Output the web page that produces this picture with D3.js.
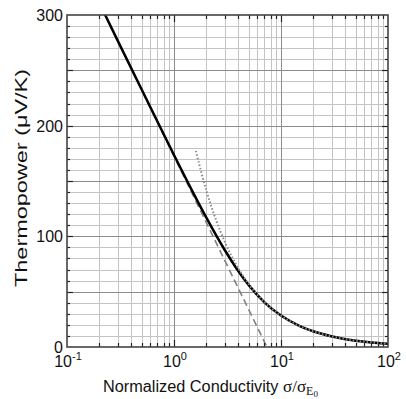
<!DOCTYPE html>
<html lang="en">
<head>
<meta charset="utf-8">
<title>Thermopower vs conductivity</title>
<script src="https://cdnjs.cloudflare.com/ajax/libs/d3/7.8.5/d3.min.js"></script>
<style type="text/css">
  body{
    margin:0;
    background:#fff;
  }
  .tick-text{
    font-family: "Liberation Sans", Arial, sans-serif;
    font-size: 16px;
    fill: #111;
  }
  .axis-title{
    font-family: "Liberation Sans", Arial, sans-serif;
    font-size: 16px;
    fill: #111;
  }
  .serif{
    font-family: "Liberation Serif", "DejaVu Serif", serif;
  }
</style>
</head>
<body>
<svg class="chart" width="406" height="399"></svg>
<script>
// conductivity (sigma/sigma_E0) and thermopower (uV/K)
var fullSigma = [0.2, 0.3, 0.5, 0.7, 1, 1.5, 2, 3, 4, 5, 7, 10, 15, 20, 30, 50, 70, 100]
var fullS     = [311.1, 276.2, 232.4, 203.7, 173.5, 140.0, 117.1, 87.2, 68.5, 55.9, 40.4, 28.4, 18.9, 14.2, 9.5, 5.7, 4.1, 2.9]

// non-degenerate limit (dashed)
var nondegSigma = [0.2, 7.39]
var nondegS     = [311.0, 0]

// degenerate limit (dotted)
var degSigma = [1.6, 2, 3, 4, 5, 7, 10, 15, 20, 30, 50, 70, 100]
var degS     = [177.2, 141.8, 94.5, 70.9, 56.7, 40.5, 28.4, 18.9, 14.2, 9.5, 5.7, 4.1, 2.8]

var xDecades = [0.1, 1, 10, 100]
var xTickExp = ["-1", "0", "1", "2"]
var yLabels = [0, 100, 200, 300]

var mLeft = 67, mRight = 388, mTop = 15, mBottom = 347

var svg = d3.select('.chart')

var x = d3.scaleLog().domain([0.1, 100]).range([mLeft, mRight])
var y = d3.scaleLinear().domain([0, 300]).range([mBottom, mTop])

// grid
var xMinor = []
xDecades.slice(0, 3).forEach(function(d) {
  for (var k = 2; k <= 9; k++) xMinor.push(d * k)
})
var yMinor = d3.range(10, 300, 10).filter(function(v) { return v % 50 != 0 })
var yMajor = d3.range(50, 300, 50)

var grid = svg.append("g")
grid.selectAll(".gx-minor").data(xMinor).enter().append("line")
  .attr("x1", function(d) { return Math.round(x(d)) + 0.5 })
  .attr("x2", function(d) { return Math.round(x(d)) + 0.5 })
  .attr("y1", mTop).attr("y2", mBottom)
  .attr("stroke", "#c4c4c4").attr("stroke-width", 1)
grid.selectAll(".gy-minor").data(yMinor).enter().append("line")
  .attr("x1", mLeft).attr("x2", mRight)
  .attr("y1", function(d) { return Math.round(y(d)) + 0.5 })
  .attr("y2", function(d) { return Math.round(y(d)) + 0.5 })
  .attr("stroke", "#c4c4c4").attr("stroke-width", 1)
grid.selectAll(".gx-major").data([1, 10]).enter().append("line")
  .attr("x1", function(d) { return Math.round(x(d)) + 0.5 })
  .attr("x2", function(d) { return Math.round(x(d)) + 0.5 })
  .attr("y1", mTop).attr("y2", mBottom)
  .attr("stroke", "#8c8c8c").attr("stroke-width", 1)
grid.selectAll(".gy-major").data(yMajor).enter().append("line")
  .attr("x1", mLeft).attr("x2", mRight)
  .attr("y1", function(d) { return Math.round(y(d)) + 0.5 })
  .attr("y2", function(d) { return Math.round(y(d)) + 0.5 })
  .attr("stroke", "#8c8c8c").attr("stroke-width", 1)

// curves
svg.append("clipPath").attr("id", "clip")
  .append("rect").attr("x", mLeft).attr("y", mTop)
  .attr("width", mRight - mLeft).attr("height", mBottom - mTop)
var plot = svg.append("g").attr("clip-path", "url(#clip)")

function lineFor(xs, ys) {
  return d3.line()
    .x(function(d, i) { return x(xs[i]) })
    .y(function(d, i) { return y(ys[i]) })
    .curve(d3.curveMonotoneX)(xs)
}

plot.append("path")
  .attr("d", lineFor(nondegSigma, nondegS))
  .attr("fill", "none").attr("stroke", "#808080")
  .attr("stroke-width", 1.6).attr("stroke-dasharray", "7,4")

plot.append("path")
  .attr("d", lineFor(fullSigma, fullS))
  .attr("fill", "none").attr("stroke", "#000")
  .attr("stroke-width", 2.5)

plot.append("path")
  .attr("d", lineFor(degSigma, degS))
  .attr("fill", "none").attr("stroke", "#8a8a8a")
  .attr("stroke-width", 2).attr("stroke-dasharray", "1.5,2")

// ticks on all four sides
var tk = svg.append("g").attr("stroke", "#222").attr("stroke-width", 1.2)
xMinor.forEach(function(d) {
  var px = Math.round(x(d)) + 0.5
  tk.append("line").attr("x1", px).attr("x2", px).attr("y1", mBottom).attr("y2", mBottom - 4)
  tk.append("line").attr("x1", px).attr("x2", px).attr("y1", mTop).attr("y2", mTop + 4)
})
;[1, 10].forEach(function(d) {
  var px = Math.round(x(d)) + 0.5
  tk.append("line").attr("x1", px).attr("x2", px).attr("y1", mBottom).attr("y2", mBottom - 7)
  tk.append("line").attr("x1", px).attr("x2", px).attr("y1", mTop).attr("y2", mTop + 7)
})
yMinor.forEach(function(d) {
  var py = Math.round(y(d)) + 0.5
  tk.append("line").attr("x1", mLeft).attr("x2", mLeft + 3).attr("y1", py).attr("y2", py)
  tk.append("line").attr("x1", mRight).attr("x2", mRight - 3).attr("y1", py).attr("y2", py)
})
yMajor.forEach(function(d) {
  var py = Math.round(y(d)) + 0.5
  tk.append("line").attr("x1", mLeft).attr("x2", mLeft + 6).attr("y1", py).attr("y2", py)
  tk.append("line").attr("x1", mRight).attr("x2", mRight - 6).attr("y1", py).attr("y2", py)
})

// frame
svg.append("rect")
  .attr("x", mLeft).attr("y", mTop)
  .attr("width", mRight - mLeft).attr("height", mBottom - mTop)
  .attr("fill", "none").attr("stroke", "#444").attr("stroke-width", 1.6)

// y tick labels
svg.selectAll(".ylab").data(yLabels).enter().append("text")
  .attr("class", "tick-text")
  .attr("x", mLeft - 4)
  .attr("y", function(d) { return y(d) + 6 })
  .attr("text-anchor", "end")
  .text(function(d) { return d })

// x tick labels 10^n
xDecades.forEach(function(d, i) {
  var t = svg.append("text")
    .attr("class", "tick-text")
    .attr("x", x(d) + 1)
    .attr("y", 367)
    .attr("text-anchor", "middle")
  t.append("tspan").text("10")
  t.append("tspan").attr("dy", -7).attr("font-size", "11px").text(xTickExp[i])
})

// axis titles
var xt = svg.append("text")
  .attr("class", "axis-title")
  .attr("x", 103)
  .attr("y", 392)
xt.append("tspan").attr("textLength", 180).attr("lengthAdjust", "spacingAndGlyphs")
  .text("Normalized Conductivity ")
xt.append("tspan").attr("class", "serif").attr("font-size", "17px").text("\u03c3/\u03c3")
xt.append("tspan").attr("class", "serif").attr("font-size", "12px").attr("dy", 3).text("E")
xt.append("tspan").attr("class", "serif").attr("font-size", "9px").attr("dy", 2).text("0")

svg.append("text")
  .attr("class", "axis-title")
  .attr("transform", "translate(27," + ((mTop + mBottom) / 2 - 3) + ") rotate(-90)")
  .attr("text-anchor", "middle")
  .attr("textLength", 218)
  .attr("lengthAdjust", "spacingAndGlyphs")
  .text("Thermopower (\u03bcV/K)")
</script>
</body>
</html>
